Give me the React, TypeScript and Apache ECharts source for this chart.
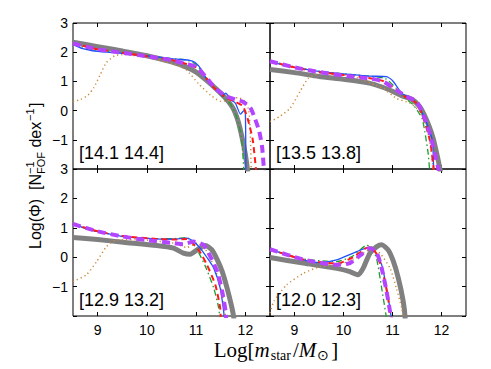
import React, { useEffect, useRef } from 'react';
import * as echarts from 'echarts';

// ---- data ----
const panelLabels = ['[14.1 14.4]', '[13.5 13.8]', '[12.9 13.2]', '[12.0 12.3]'];
const xTicks = [9, 10, 11, 12];

// panel 1 [14.1 14.4]
const gray1 = [[8.5,2.34],[9,2.19],[9.5,2.04],[10,1.88],[10.5,1.67],[10.8,1.49],[11,1.32],[11.2,1.05],[11.4,0.75],[11.6,0.42],[11.75,0.08],[11.85,-0.35],[11.93,-0.9],[12.0,-1.5],[12.05,-2.1]];
const blue1 = [[8.5,2.27],[8.7,2.12],[8.9,2.05],[9.2,2.0],[9.5,1.96],[10,1.87],[10.3,1.82],[10.6,1.76],[10.85,1.73],[10.98,1.65],[11.1,1.42],[11.22,1.05],[11.35,0.8],[11.45,0.68],[11.53,0.5],[11.6,0.6],[11.7,0.38],[11.8,0.25],[11.9,-0.12],[11.97,0.0],[12.0,-0.1],[12.01,-2.1]];
const green1 = [[8.5,2.3],[8.8,2.12],[9,2.06],[9.5,1.97],[10,1.88],[10.5,1.78],[10.8,1.73],[11,1.58],[11.2,1.12],[11.4,0.72],[11.55,0.45],[11.7,0.22],[11.82,-0.2],[11.92,-0.9],[11.97,-2.1]];
const red1 = [[8.5,2.3],[9,2.1],[9.5,1.98],[10,1.86],[10.5,1.73],[10.8,1.6],[11,1.48],[11.2,1.12],[11.4,0.72],[11.6,0.45],[11.8,0.3],[11.95,0.15],[12.05,-0.3],[12.15,-1.0],[12.22,-2.1]];
const purple1 = [[8.5,2.3],[9,2.1],[9.5,1.98],[10,1.86],[10.5,1.73],[10.8,1.6],[11,1.5],[11.2,1.15],[11.4,0.75],[11.6,0.5],[11.8,0.38],[11.95,0.3],[12.1,0.1],[12.2,-0.3],[12.28,-0.7],[12.34,-1.25],[12.38,-2.1]];
const orange1 = [[8.5,0.31],[8.65,0.38],[8.8,0.52],[8.92,0.78],[9.05,1.22],[9.18,1.65],[9.35,1.88],[9.55,1.92],[10,1.82],[10.5,1.62],[10.8,1.39],[11.05,0.92],[11.3,0.52],[11.5,0.32],[11.7,0.36],[11.85,0.45],[12.0,0.3],[12.07,0.0],[12.1,-0.8],[12.12,-2.1]];

// panel 2 [13.5 13.8]
const gray2 = [[8.5,1.41],[9,1.3],[9.5,1.17],[10,1.07],[10.5,0.95],[10.8,0.8],[11,0.66],[11.2,0.5],[11.4,0.38],[11.55,0.15],[11.65,-0.15],[11.75,-0.55],[11.83,-0.95],[11.92,-1.6],[11.98,-2.1]];
const blue2 = [[8.5,1.69],[8.8,1.55],[9.2,1.42],[9.5,1.34],[9.9,1.27],[10.2,1.23],[10.55,1.18],[10.88,1.16],[11.02,0.99],[11.19,0.59],[11.36,0.44],[11.49,0.25],[11.66,-0.26],[11.77,-0.77],[11.82,-1.06],[11.84,-2.1]];
const green2 = [[8.5,1.7],[9,1.5],[9.5,1.35],[10,1.26],[10.5,1.18],[10.85,1.1],[11.08,0.76],[11.22,0.48],[11.43,0.19],[11.6,-0.26],[11.66,-0.72],[11.73,-1.5],[11.76,-2.1]];
const red2 = [[8.5,1.69],[9,1.48],[9.5,1.32],[10,1.22],[10.5,1.12],[10.8,1.02],[11.08,0.72],[11.25,0.48],[11.49,0.25],[11.63,-0.26],[11.77,-1.06],[11.83,-1.85],[11.85,-2.1]];
const purple2 = [[8.5,1.69],[9,1.48],[9.5,1.32],[10,1.2],[10.54,1.1],[10.81,1.0],[11.08,0.7],[11.29,0.48],[11.49,0.31],[11.63,-0.15],[11.77,-0.83],[11.87,-1.51],[11.95,-2.1]];
const orange2 = [[8.5,-0.38],[8.7,-0.2],[8.91,0.08],[9.11,0.65],[9.28,1.1],[9.52,1.27],[10.2,1.16],[10.81,0.76],[11.08,0.42],[11.36,0.25],[11.56,-0.03],[11.7,-0.6],[11.8,-1.51],[11.83,-2.1]];

// panel 3 [12.9 13.2]
const gray3 = [[8.5,0.67],[9,0.6],[9.52,0.51],[10.2,0.4],[10.54,0.31],[10.74,0.14],[10.88,0.1],[11.02,0.25],[11.19,0.4],[11.32,0.25],[11.43,-0.09],[11.53,-0.49],[11.63,-1.06],[11.73,-1.74],[11.77,-2.1]];
const blue3 = [[8.5,1.13],[8.84,0.93],[9.2,0.8],[9.52,0.7],[10.2,0.62],[10.54,0.61],[10.81,0.65],[10.95,0.53],[11.08,0.31],[11.22,-0.01],[11.36,-0.38],[11.49,-1.06],[11.56,-1.85],[11.57,-2.1]];
const green3 = [[8.5,1.13],[8.84,0.93],[9.2,0.8],[9.52,0.7],[10.2,0.63],[10.54,0.63],[10.81,0.67],[11.02,0.25],[11.19,-0.32],[11.36,-1.06],[11.46,-1.74],[11.48,-2.1]];
const red3 = [[8.5,1.13],[9,0.88],[9.52,0.72],[10.2,0.62],[10.54,0.6],[10.81,0.62],[11.05,0.25],[11.22,-0.26],[11.39,-0.94],[11.49,-1.74],[11.5,-2.1]];
const purple3 = [[8.5,1.13],[9,0.88],[9.52,0.7],[10,0.58],[10.54,0.48],[10.74,0.44],[10.95,0.53],[11.15,0.42],[11.29,0.02],[11.43,-0.49],[11.53,-1.17],[11.6,-1.85],[11.61,-2.1]];
const orange3 = [[8.5,-0.83],[8.77,-0.6],[8.98,-0.15],[9.18,0.36],[9.38,0.59],[9.86,0.59],[10.54,0.48],[10.81,0.33],[11.02,0.48],[11.22,0.19],[11.43,-0.6],[11.56,-1.51],[11.6,-2.1]];

// panel 4 [12.0 12.3]
const gray4 = [[8.5,-0.01],[9.18,-0.2],[9.86,-0.38],[10.13,-0.49],[10.3,-0.6],[10.4,-0.38],[10.54,0.14],[10.68,0.36],[10.78,0.42],[10.91,0.25],[11.02,-0.15],[11.12,-0.72],[11.22,-1.51],[11.26,-2.1]];
const blue4 = [[8.5,0.27],[9.18,-0.09],[9.52,-0.18],[9.86,-0.09],[10.2,0.14],[10.47,0.31],[10.64,0.19],[10.78,-0.26],[10.88,-1.06],[10.98,-2.1]];
const green4 = [[8.5,0.27],[9.18,-0.06],[9.86,-0.15],[10.2,0.05],[10.47,0.4],[10.57,0.37],[10.68,-0.09],[10.78,-1.06],[10.88,-2.1]];
const red4 = [[8.5,0.27],[9.18,-0.08],[9.86,-0.22],[10.2,0.0],[10.45,0.3],[10.55,0.33],[10.68,0.1],[10.8,-0.5],[10.9,-1.3],[10.97,-2.1]];
const purple4 = [[8.5,0.27],[9.18,-0.08],[9.86,-0.26],[10.13,-0.2],[10.4,0.14],[10.54,0.31],[10.68,0.14],[10.78,-0.38],[10.88,-1.17],[10.95,-1.85],[10.97,-2.1]];
const orange4 = [[8.5,-1.9],[8.58,-1.5],[8.84,-0.94],[9.18,-0.55],[9.52,-0.32],[9.86,-0.26],[10.2,-0.09],[10.54,0.25],[10.74,0.14],[10.95,-0.38],[11.08,-1.06],[11.19,-1.74],[11.22,-2.1]];

const panels = [
  { gray: gray1, orange: orange1, green: green1, blue: blue1, red: red1, purple: purple1 },
  { gray: gray2, orange: orange2, green: green2, blue: blue2, red: red2, purple: purple2 },
  { gray: gray3, orange: orange3, green: green3, blue: blue3, red: red3, purple: purple3 },
  { gray: gray4, orange: orange4, green: green4, blue: blue4, red: red4, purple: purple4 },
];

// ---- styles ----
const grids = [
  { left: 73, top: 23, width: 197, height: 146 },
  { left: 270, top: 23, width: 196, height: 146 },
  { left: 73, top: 169, width: 197, height: 147 },
  { left: 270, top: 169, width: 196, height: 147 },
];

const seriesStyles: Record<string, any> = {
  gray: { color: '#808080', width: 5, type: 'solid' },
  orange: { color: '#cc8a3c', width: 1.5, type: [1.2, 3] },
  green: { color: '#1e9e2e', width: 1.3, type: [6, 3, 1.5, 3] },
  blue: { color: '#1f50ff', width: 1.3, type: 'solid' },
  red: { color: '#ff1a1a', width: 2, type: [6, 4] },
  purple: { color: '#b444ff', width: 4, type: [8, 5] },
};
const order = ['gray', 'orange', 'green', 'blue', 'red', 'purple'];

const SANS = 'Liberation Sans, Arial, sans-serif';
const SERIF = 'Liberation Serif, Times New Roman, serif';

function fmtY(v: number) {
  if (v === -2) return '';
  return v < 0 ? '\u2212' + Math.abs(v) : String(v);
}

export default function App() {
  const ref = useRef<HTMLDivElement>(null);
  useEffect(() => {
    if (!ref.current) return;
    const chart = echarts.init(ref.current, null, { renderer: 'svg' });
    const xAxis: any[] = [];
    const yAxis: any[] = [];
    const series: any[] = [];
    const graphic: any[] = [];
    grids.forEach((g, i) => {
      const tick = { inside: true, length: 4, lineStyle: { color: '#000', width: 1 } };
      const line = { show: false, onZero: false };
      xAxis.push({
        type: 'value', gridIndex: i, min: 8.5, max: 12.5, position: 'bottom',
        axisLine: line, splitLine: { show: false },
        axisTick: { ...tick, customValues: xTicks },
        axisLabel: { show: i >= 2, customValues: xTicks, fontSize: 14, color: '#000', fontFamily: SANS, margin: 7 },
      });
      xAxis.push({
        type: 'value', gridIndex: i, min: 8.5, max: 12.5, position: 'top',
        axisLine: line, splitLine: { show: false },
        axisTick: { ...tick, customValues: xTicks },
        axisLabel: { show: false },
      });
      yAxis.push({
        type: 'value', gridIndex: i, min: -2, max: 3, interval: 1, position: 'left',
        axisLine: line, splitLine: { show: false },
        axisTick: tick,
        axisLabel: { show: i % 2 === 0, formatter: fmtY, fontSize: 14, color: '#000', fontFamily: SANS, margin: 5 },
      });
      yAxis.push({
        type: 'value', gridIndex: i, min: -2, max: 3, interval: 1, position: 'right',
        axisLine: line, splitLine: { show: false },
        axisTick: tick,
        axisLabel: { show: false },
      });
      const p: any = panels[i];
      order.forEach((k) => {
        series.push({
          type: 'line', xAxisIndex: 2 * i, yAxisIndex: 2 * i,
          data: p[k], showSymbol: false, symbol: 'none', smooth: 0.2, clip: true,
          lineStyle: { ...seriesStyles[k], cap: 'butt', join: 'round' },
          z: 2,
        });
      });
      graphic.push({
        type: 'text', left: g.left + 6, top: g.top + g.height - 25,
        style: { text: panelLabels[i], font: `18px ${SANS}`, fill: '#000' },
        z: 10,
      });
    });

    // y-axis title (rotated)
    const sup = (t: string, x: number) => ({ type: 'text', x, y: -5, style: { text: t, font: `11px ${SANS}`, fill: '#000', align: 'left', verticalAlign: 'middle' } });
    const sub = (t: string, x: number) => ({ type: 'text', x, y: 6, style: { text: t, font: `11px ${SANS}`, fill: '#000', align: 'left', verticalAlign: 'middle' } });
    const main = (t: string, x: number) => ({ type: 'text', x, y: 0, style: { text: t, font: `16px ${SANS}`, fill: '#000', align: 'left', verticalAlign: 'middle' } });
    graphic.push({
      type: 'group', x: 35, y: 249, rotation: Math.PI / 2,
      children: [
        main('Log(\u03A6)', 0),
        main('[N', 59),
        sup('\u22121', 75),
        sub('FOF', 75),
        main(' dex', 97),
        sup('\u22121', 128),
        main(']', 142),
      ],
    });

    // x-axis title
    graphic.push({
      type: 'text', x: 276, y: 350,
      style: {
        text: '{r|Log[}{i|m}{s|star}{r|/}{i|M}{s|\u2299}{r|]}',
        align: 'center', verticalAlign: 'middle', fill: '#000',
        rich: {
          r: { fontFamily: SERIF, fontSize: 21, lineHeight: 24, fill: '#000' },
          i: { fontFamily: SERIF, fontSize: 21, fontStyle: 'italic', lineHeight: 24, fill: '#000', padding: [0, 1, 0, 0] },
          s: { fontFamily: SERIF, fontSize: 14, verticalAlign: 'bottom', fill: '#000', padding: [0, 2, 0, 0] },
        },
      },
    });

    chart.setOption({
      animation: false,
      backgroundColor: '#fff',
      grid: grids.map((g) => ({ ...g, show: true, borderColor: '#000', borderWidth: 1, backgroundColor: 'transparent' })),
      xAxis, yAxis, series, graphic,
    });
    return () => chart.dispose();
  }, []);
  return <div ref={ref} style={{ position: 'fixed', left: 0, top: 0, width: 491, height: 369 }} />;
}
